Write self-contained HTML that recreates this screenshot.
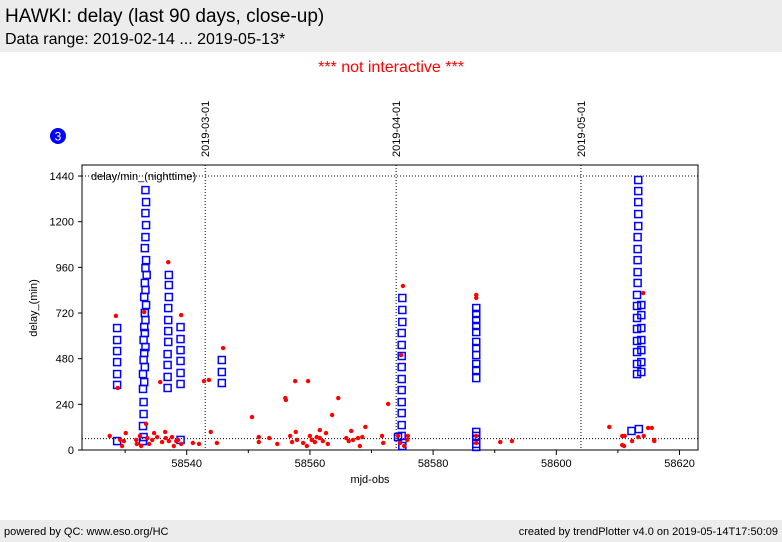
<!DOCTYPE html>
<html><head><meta charset="utf-8"><style>
body{margin:0;width:782px;height:542px;background:#fff;font-family:"Liberation Sans",sans-serif;overflow:hidden;position:relative}
.hdr{position:absolute;left:0;top:0;width:782px;height:52px;background:#ececec}
.ftr{position:absolute;left:0;top:520px;width:782px;height:22px;background:#ececec;font-size:11px}
</style></head><body>
<div class="hdr">
<div style="position:absolute;left:5px;top:6px;font-size:19px">HAWKI: delay (last 90 days, close-up)</div>
<div style="position:absolute;left:5px;top:31px;font-size:16px">Data range: 2019-02-14 ... 2019-05-13*</div>
</div>
<div style="position:absolute;left:0;width:782px;top:59px;text-align:center;color:#f00;font-size:16px">*** not interactive ***</div>
<div class="ftr">
<span style="position:absolute;left:4px;top:6px">powered by QC: www.eso.org/HC</span>
<span style="position:absolute;right:4px;top:6px">created by trendPlotter v4.0 on 2019-05-14T17:50:09</span>
</div>
<svg id="chart" width="782" height="542" style="position:absolute;left:0;top:0" font-family="Liberation Sans, sans-serif">
<circle cx="58" cy="136" r="8" fill="#00f"/>
<text x="58" y="140.5" fill="#fff" font-size="12" text-anchor="middle">3</text>
<g id="g"></g>
</svg>
<script>
const xMin=58523,xMax=58623,yMin=0,yMax=1498;
const L=82,R=698,T=165,B=450;
const yTicks=[0,240,480,720,960,1200,1440];
const xTicks=[58540,58560,58580,58600,58620];
const dateMjd=[58543,58574,58604];
const dateLabels=["2019-03-01","2019-04-01","2019-05-01"];
const refLines=[60,1440];
const blueX=[58528.7,58528.7,58528.7,58528.7,58528.7,58528.7,58528.7,
58533.3,58533.4,58533.3,58533.4,58533.3,58533.2,58533.4,58533.3,58533.5,58533.2,58533.3,58533.1,58533.4,58533.2,58533.3,58533.1,58533.2,58533.0,58533.3,58533.1,58533.0,58533.2,58532.9,58533.1,58532.9,58533.0,58533.0,58532.9,58533.0,58532.9,
58537.1,58537.1,58537.1,58537.0,58537.0,58537.0,58537.0,58536.9,58536.9,58536.9,58536.9,
58539.0,58539.0,58539.0,58539.0,58539.0,58539.0,58539.0,
58545.7,58545.7,58545.7,
58575.0,58575.0,58575.0,58574.9,58574.9,58574.9,58574.9,58574.9,58574.9,58574.9,58574.9,58574.9,58574.9,58575.0,58574.3,
58587,58587,58587,58587,58587,58587,58587,58587,58587,58587,58587,58587,58587,58587,58587,58587,
58613.3,58613.3,58613.3,58613.3,58613.3,58613.2,58613.2,58613.2,58613.2,58613.2,58613.1,58613.1,58613.1,58613.1,58613.1,58613.1,58613.1,58613.1,
58613.8,58613.8,58613.8,58613.8,58613.8,58613.8,58613.8,58612.2,58613.4];
const blueY=[641,578,520,462,399,342,47,
1366,1303,1245,1182,1119,1061,998,956,920,878,841,804,762,720,683,646,615,578,541,510,473,436,399,357,321,252,189,126,68,47,
920,867,804,746,683,625,568,504,447,384,326,
646,583,525,468,405,347,53,
473,410,352,
799,736,673,615,552,494,436,373,315,252,194,131,74,21,68,
746,715,683,652,620,568,536,499,452,420,378,95,74,53,32,16,
1419,1361,1303,1240,1177,1119,1056,998,935,878,815,757,694,636,573,515,452,399,
762,709,641,578,525,462,410,100,110];
const redX=[4.5,5.5,5.8,6.2,6.5,6.8,7.1,8.8,8.9,9.4,9.6,10.1,10.4,10.6,10.9,11.4,11.7,12.2,12.7,13.0,13.5,13.6,14.0,14.1,14.6,14.9,15.3,15.6,16.1,16.1,18.0,19.0,19.8,20.6,20.9,21.9,22.9,27.6,28.7,28.7,30.4,31.7,33.0,33.1,33.8,34.1,34.6,34.7,34.9,35.9,36.5,36.7,37.0,37.3,37.8,38.1,38.6,38.6,39.1,39.6,39.9,40.6,41.6,42.9,43.3,43.7,44.0,44.8,45.1,45.5,46.0,48.7,48.9,49.7,51.3,51.6,51.8,52.1,52.3,52.8,52.9,64.0,64.0,64.0,64.0,67.9,69.8,85.6,87.7,88.1,87.7,88.0,89.3,90.3,91.1,91.2,91.9,92.5,92.9,92.9].map(d=>58523+d);
const redY=[74,705,326,53,21,47,89,53,32,74,21,725,137,63,32,53,89,68,357,42,95,63,987,47,68,21,47,53,709,32,37,32,362,368,95,37,536,173,68,42,63,32,273,263,74,42,362,95,53,37,21,362,74,53,42,68,105,63,47,89,32,184,273,63,47,100,53,63,21,68,121,74,37,242,74,37,499,862,21,53,74,815,799,74,37,42,47,121,74,74,26,21,47,68,825,74,116,116,53,47];
const NS="http://www.w3.org/2000/svg";
const g=document.getElementById('g');
const sx=v=>L+(v-xMin)/(xMax-xMin)*(R-L);
const sy=v=>B-(v-yMin)/(yMax-yMin)*(B-T);
function mk(t,a,txt){const e=document.createElementNS(NS,t);for(const k in a)e.setAttribute(k,a[k]);if(txt!==undefined)e.textContent=txt;g.appendChild(e);return e;}
let e;
e=mk('rect',{x:L,y:T,width:R-L,height:B-T,fill:'#fff',stroke:'#000','stroke-width':1});


refLines.forEach(v=>{e=mk('line',{x1:L,x2:R,y1:sy(v),y2:sy(v),stroke:'#000','stroke-dasharray':'1,2','stroke-width':1});

});
dateMjd.forEach((d,i)=>{const x=sx(d);
e=mk('line',{x1:x,x2:x,y1:T,y2:B,stroke:'#000','stroke-dasharray':'1,2','stroke-width':1});


e=mk('text',{x:0,y:0,transform:`translate(${x+4},157) rotate(-90)`,'font-size':11},dateLabels[i]);

});
yTicks.forEach(v=>{const y=sy(v);
e=mk('line',{x1:L-4,x2:L,y1:y,y2:y,stroke:'#000'});


e=mk('text',{x:L-8,y:y+4,'font-size':11,'text-anchor':'end'},String(v));

});
for(let v=58530;v<=58620;v+=10){const x=sx(v);
e=mk('line',{x1:x,x2:x,y1:B,y2:B+(v%20==0?5:3),stroke:'#000'});

}
xTicks.forEach(v=>{e=mk('text',{x:sx(v),y:B+17,'font-size':11,'text-anchor':'middle'},String(v));

});
e=mk('text',{x:370,y:483,'font-size':11,'text-anchor':'middle'},'mjd-obs');


e=mk('text',{x:0,y:0,transform:'translate(37,308) rotate(-90)','font-size':11,'text-anchor':'middle'},'delay_(min)');


e=mk('text',{x:91,y:180,'font-size':11},'delay/min_(nighttime)');


blueX.forEach((d,i)=>{const x=sx(d),y=sy(blueY[i]);
e=mk('rect',{x:x-3.5,y:y-3.5,width:7,height:7,fill:'none',stroke:'#00f','stroke-width':1.5});

});
redX.forEach((d,i)=>{
e=mk('circle',{cx:sx(d),cy:sy(redY[i]),r:2.2,fill:'#f00'});

});
</script>
</body></html>
